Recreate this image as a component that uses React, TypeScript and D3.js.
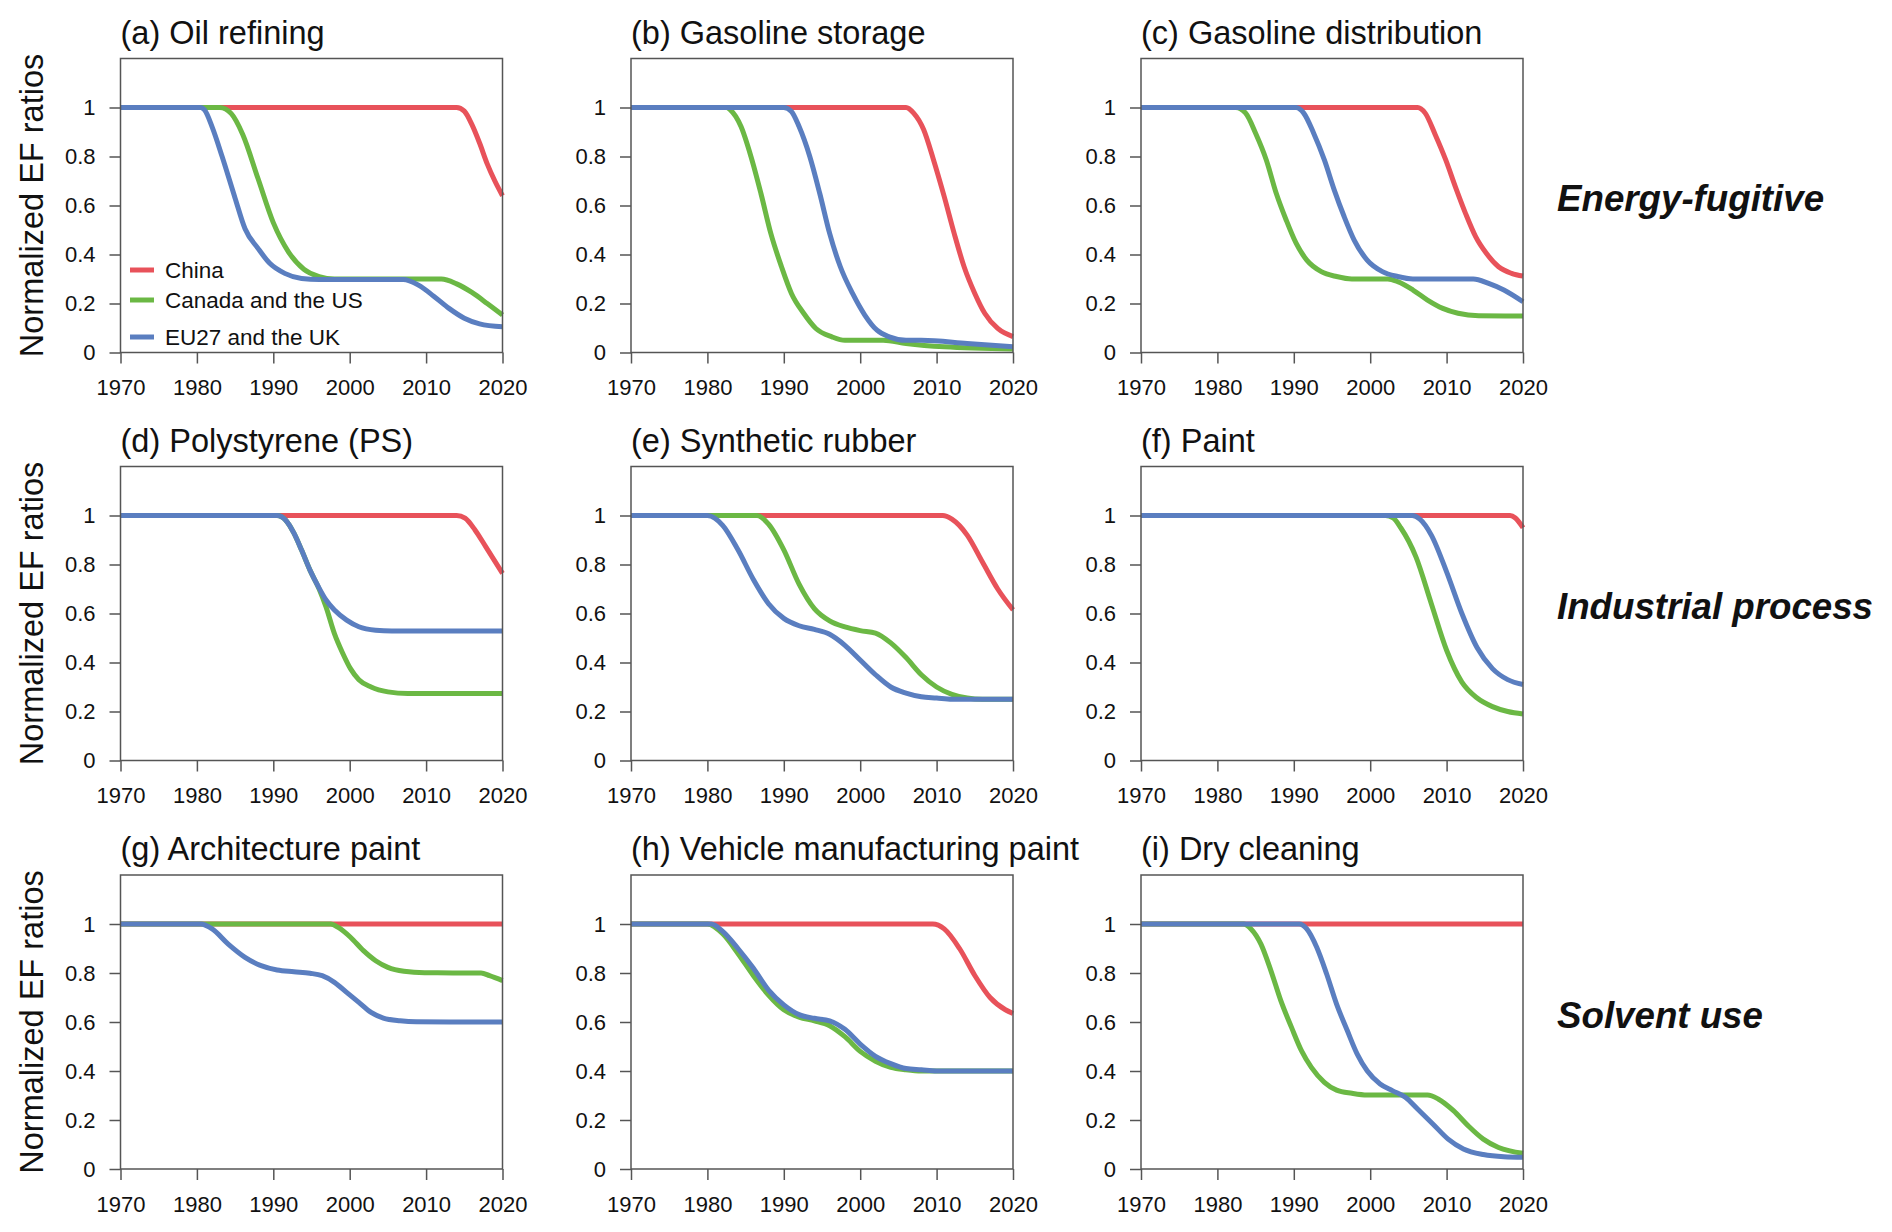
import React, { useEffect, useRef } from 'react';
import * as d3 from 'd3';

type Pt = [number, number];

const yearTicks = [1970, 1980, 1990, 2000, 2010, 2020];
const ratioTicks = [0, 0.2, 0.4, 0.6, 0.8, 1];
const regions = ['China', 'Canada and the US', 'EU27 and the UK'];
const regionColors = ['#e8525a', '#6bb844', '#5a7ec0'];
const panelTitles = [
  '(a) Oil refining', '(b) Gasoline storage', '(c) Gasoline distribution',
  '(d) Polystyrene (PS)', '(e) Synthetic rubber', '(f) Paint',
  '(g) Architecture paint', '(h) Vehicle manufacturing paint', '(i) Dry cleaning',
];
const sectorLabels = ['Energy-fugitive', 'Industrial process', 'Solvent use'];

// (a) Oil refining
const oilChina: Pt[] = [[1970, 1], [2014, 1], [2015, 0.985], [2016, 0.93], [2017, 0.855], [2018, 0.77], [2019, 0.7], [2020, 0.64]];
const oilNA: Pt[] = [[1970, 1], [1983, 1], [1984.5, 0.975], [1986, 0.89], [1988, 0.71], [1990, 0.53], [1992, 0.41], [1994, 0.34], [1996, 0.31], [1998, 0.3], [2012, 0.3], [2014, 0.28], [2016, 0.245], [2018, 0.2], [2020, 0.153]];
const oilEU: Pt[] = [[1970, 1], [1980.5, 1], [1981, 0.99], [1982, 0.92], [1983.3, 0.8], [1985, 0.63], [1986.3, 0.505], [1988, 0.425], [1989.5, 0.365], [1991.5, 0.323], [1993.7, 0.302], [1996, 0.298], [2007, 0.298], [2009, 0.275], [2011, 0.23], [2013, 0.18], [2015, 0.14], [2017, 0.117], [2020, 0.105]];

// (b) Gasoline storage
const storChina: Pt[] = [[1970, 1], [2006, 1], [2007, 0.977], [2008.3, 0.91], [2009.6, 0.786], [2011, 0.636], [2012.3, 0.486], [2013.6, 0.35], [2015, 0.241], [2016.3, 0.16], [2018, 0.098], [2020, 0.065]];
const storNA: Pt[] = [[1970, 1], [1982.5, 1], [1983, 0.99], [1984.4, 0.922], [1985.7, 0.8], [1987, 0.65], [1988.3, 0.486], [1989.7, 0.35], [1991, 0.241], [1992.6, 0.16], [1994.2, 0.098], [1996.3, 0.064], [1998, 0.05], [2003, 0.05], [2006, 0.037], [2011, 0.023], [2020, 0.014]];
const storEU: Pt[] = [[1970, 1], [1990, 1], [1991, 0.984], [1992, 0.922], [1993.4, 0.8], [1994.7, 0.65], [1996, 0.486], [1997.4, 0.35], [1999, 0.241], [2000.6, 0.153], [2002.2, 0.091], [2003.8, 0.064], [2006, 0.05], [2008, 0.05], [2014, 0.037], [2020, 0.023]];

// (c) Gasoline distribution
const distChina: Pt[] = [[1970, 1], [2006.2, 1], [2007.2, 0.977], [2008.5, 0.89], [2009.9, 0.785], [2011.2, 0.672], [2012.5, 0.566], [2013.8, 0.473], [2015.2, 0.405], [2016.8, 0.35], [2018.5, 0.323], [2020, 0.312]];
const distNA: Pt[] = [[1970, 1], [1982.4, 1], [1983.7, 0.977], [1985, 0.895], [1986.4, 0.786], [1987.7, 0.65], [1989, 0.541], [1990.3, 0.446], [1991.7, 0.377], [1993.6, 0.33], [1995.6, 0.31], [1997.6, 0.3], [2002.3, 0.3], [2003.6, 0.289], [2005.6, 0.255], [2007.5, 0.214], [2009.5, 0.18], [2011.5, 0.16], [2014.2, 0.15], [2020, 0.149]];
const distEU: Pt[] = [[1970, 1], [1990.3, 1], [1991.3, 0.977], [1992.6, 0.895], [1994, 0.786], [1995.3, 0.663], [1996.6, 0.554], [1997.9, 0.459], [1999.6, 0.377], [2001.6, 0.33], [2003.6, 0.31], [2005.6, 0.3], [2013.5, 0.3], [2015.5, 0.282], [2017.5, 0.255], [2020, 0.207]];

// (d) Polystyrene (PS)
const psChina: Pt[] = [[1970, 1], [2014, 1], [2015.1, 0.989], [2016.4, 0.941], [2017.8, 0.873], [2020, 0.764]];
const psNA: Pt[] = [[1970, 1], [1990.5, 1], [1991.6, 0.982], [1992.7, 0.928], [1993.7, 0.859], [1994.8, 0.777], [1996, 0.7], [1996.9, 0.627], [1998, 0.518], [1999.1, 0.437], [2000.1, 0.375], [2001.2, 0.33], [2002.8, 0.3], [2005, 0.28], [2007.6, 0.273], [2020, 0.273]];
const psEU: Pt[] = [[1970, 1], [1990.5, 1], [1991.6, 0.982], [1992.7, 0.928], [1993.7, 0.859], [1994.8, 0.777], [1995.9, 0.709], [1996.9, 0.655], [1998, 0.614], [1999.6, 0.573], [2001.2, 0.546], [2003.4, 0.532], [2005.5, 0.529], [2020, 0.529]];

// (e) Synthetic rubber
const rubChina: Pt[] = [[1970, 1], [2010.8, 1], [2012, 0.985], [2014, 0.92], [2016, 0.81], [2018, 0.7], [2020, 0.615]];
const rubNA: Pt[] = [[1970, 1], [1986.5, 1], [1988, 0.965], [1990, 0.86], [1992, 0.72], [1994, 0.62], [1996, 0.57], [1998, 0.545], [2000, 0.53], [2002, 0.52], [2004, 0.48], [2006, 0.42], [2008, 0.35], [2010, 0.3], [2012, 0.27], [2014, 0.255], [2016, 0.25], [2020, 0.25]];
const rubEU: Pt[] = [[1970, 1], [1980, 1], [1982, 0.96], [1984, 0.86], [1986, 0.74], [1988, 0.64], [1990, 0.58], [1992, 0.55], [1994, 0.535], [1996, 0.515], [1998, 0.47], [2000, 0.41], [2002, 0.35], [2004, 0.3], [2006, 0.275], [2008, 0.26], [2010, 0.255], [2012, 0.25], [2020, 0.25]];

// (f) Paint
const paintChina: Pt[] = [[1970, 1], [2018.3, 1], [2019, 0.99], [2020, 0.95]];
const paintNA: Pt[] = [[1970, 1], [2002, 1], [2003, 0.99], [2004, 0.95], [2006, 0.83], [2008, 0.64], [2010, 0.45], [2012, 0.32], [2014, 0.255], [2016, 0.22], [2018, 0.2], [2020, 0.19]];
const paintEU: Pt[] = [[1970, 1], [2005.5, 1], [2006.5, 0.985], [2008, 0.92], [2010, 0.77], [2012, 0.6], [2014, 0.46], [2016, 0.375], [2018, 0.33], [2020, 0.31]];

// (g) Architecture paint
const archChina: Pt[] = [[1970, 1], [2020, 1]];
const archNA: Pt[] = [[1970, 1], [1997.5, 1], [1998.5, 0.986], [2000.1, 0.946], [2001.8, 0.891], [2003.4, 0.85], [2005, 0.823], [2007.1, 0.807], [2009.8, 0.801], [2017.2, 0.8], [2018.3, 0.789], [2020, 0.769]];
const archEU: Pt[] = [[1970, 1], [1980.5, 1], [1982, 0.98], [1984.1, 0.918], [1986.3, 0.864], [1988.4, 0.83], [1990.5, 0.812], [1992.7, 0.805], [1994.8, 0.799], [1996.4, 0.789], [1998, 0.762], [1999.6, 0.721], [2001.2, 0.68], [2002.8, 0.639], [2004.4, 0.616], [2006.6, 0.605], [2008.7, 0.601], [2020, 0.6]];

// (h) Vehicle manufacturing paint
const vehChina: Pt[] = [[1970, 1], [2009.5, 1], [2011, 0.98], [2013, 0.9], [2015, 0.79], [2017, 0.7], [2019, 0.65], [2020, 0.635]];
const vehNA: Pt[] = [[1970, 1], [1980, 1], [1982, 0.96], [1984, 0.88], [1986, 0.79], [1988, 0.71], [1990, 0.65], [1992, 0.62], [1994, 0.605], [1996, 0.585], [1998, 0.54], [2000, 0.48], [2002, 0.44], [2004, 0.415], [2006, 0.405], [2008, 0.4], [2020, 0.4]];
const vehEU: Pt[] = [[1970, 1], [1980.5, 1], [1982, 0.97], [1984, 0.9], [1986, 0.82], [1988, 0.73], [1990, 0.67], [1992, 0.63], [1994, 0.615], [1996, 0.605], [1998, 0.57], [2000, 0.51], [2002, 0.46], [2004, 0.43], [2006, 0.41], [2008, 0.405], [2010, 0.4], [2020, 0.4]];

// (i) Dry cleaning
const dryChina: Pt[] = [[1970, 1], [2020, 1]];
const dryNA: Pt[] = [[1970, 1], [1983.4, 1], [1984.4, 0.98], [1985.7, 0.918], [1987, 0.81], [1988.3, 0.687], [1989.7, 0.578], [1991, 0.483], [1992.3, 0.415], [1994, 0.354], [1995.6, 0.322], [1997.6, 0.309], [1999.6, 0.302], [2007.5, 0.302], [2008.9, 0.286], [2010.9, 0.238], [2012.8, 0.177], [2014.8, 0.122], [2016.8, 0.088], [2020, 0.064]];
const dryEU: Pt[] = [[1970, 1], [1990.7, 1], [1991.7, 0.98], [1993, 0.905], [1994.3, 0.796], [1995.6, 0.673], [1997, 0.565], [1998.3, 0.469], [1999.6, 0.401], [2001.3, 0.347], [2002.9, 0.32], [2004.6, 0.293], [2006.2, 0.245], [2008.2, 0.184], [2010.2, 0.122], [2012.2, 0.082], [2014.8, 0.059], [2017.5, 0.05], [2020, 0.048]];

const panelSeries: Pt[][][] = [
  [oilChina, oilNA, oilEU],
  [storChina, storNA, storEU],
  [distChina, distNA, distEU],
  [psChina, psNA, psEU],
  [rubChina, rubNA, rubEU],
  [paintChina, paintNA, paintEU],
  [archChina, archNA, archEU],
  [vehChina, vehNA, vehEU],
  [dryChina, dryNA, dryEU],
];

const FONT = '"Liberation Sans", Arial, Helvetica, sans-serif';
const W = 1892;
const H = 1232;
const colLeft = [120.5, 631, 1141];
const rowTop = [58.5, 466.5, 875];
const PW = 382;
const PH = 294;
const AXIS = '#555';

const Panel: React.FC<{ idx: number }> = ({ idx }) => {
  const xRef = useRef<SVGGElement>(null);
  const yRef = useRef<SVGGElement>(null);
  const col = idx % 3;
  const row = Math.floor(idx / 3);
  const left = colLeft[col];
  const top = rowTop[row];

  const x = d3.scaleLinear().domain([1970, 2020]).range([0, PW]);
  const y = d3.scaleLinear().domain([0, 1.2]).range([PH, 0]);
  const line = d3.line<Pt>().x(d => x(d[0])).y(d => y(d[1])).curve(d3.curveMonotoneX);

  useEffect(() => {
    if (!xRef.current || !yRef.current) return;
    const gx = d3.select(xRef.current);
    gx.selectAll('*').remove();
    gx.call(d3.axisBottom(x).tickValues(yearTicks).tickSize(11).tickSizeOuter(0).tickPadding(16).tickFormat(d3.format('d')));
    gx.select('.domain').remove();
    gx.selectAll('line').attr('stroke', AXIS).attr('stroke-width', 1.5);
    gx.selectAll('text').attr('font-size', 22).attr('font-family', FONT).attr('fill', '#111');
    gx.attr('font-family', null).attr('font-size', null);

    const gy = d3.select(yRef.current);
    gy.selectAll('*').remove();
    gy.call(d3.axisLeft(y).tickValues(ratioTicks).tickSize(11).tickSizeOuter(0).tickPadding(14).tickFormat(d => String(d)));
    gy.select('.domain').remove();
    gy.selectAll('line').attr('stroke', AXIS).attr('stroke-width', 1.5);
    gy.selectAll('text').attr('font-size', 22).attr('font-family', FONT).attr('fill', '#111');
    gy.attr('font-family', null).attr('font-size', null);
  }, [idx]);

  const series = panelSeries[idx];

  return (
    <g transform={`translate(${left},${top})`}>
      <text x={0} y={-15} fontSize={32.5} fontFamily={FONT} fill="#111">{panelTitles[idx]}</text>
      {series.map((s, i) => (
        <path key={i} d={line(s) || ''} fill="none" stroke={regionColors[i]} strokeWidth={5} strokeLinejoin="round" />
      ))}
      <rect x={0} y={0} width={PW} height={PH} fill="none" stroke={AXIS} strokeWidth={1.5} />
      <g ref={xRef} transform={`translate(0,${PH})`} />
      <g ref={yRef} />
      {col === 0 && (
        <text transform={`translate(${43 - left},${PH / 2}) rotate(-90)`} textAnchor="middle" fontSize={32.5} fontFamily={FONT} fill="#111">
          Normalized EF ratios
        </text>
      )}
      {idx === 0 && (
        <g>
          {regions.map((r, i) => {
            const ly = [270, 300, 337][i] - top;
            return (
              <g key={r}>
                <line x1={130 - left} x2={154 - left} y1={ly} y2={ly} stroke={regionColors[i]} strokeWidth={5} />
                <text x={165 - left} y={ly} dy="0.35em" fontSize={22.5} fontFamily={FONT} fill="#111">{r}</text>
              </g>
            );
          })}
        </g>
      )}
    </g>
  );
};

export default function App() {
  return (
    <svg width={W} height={H} viewBox={`0 0 ${W} ${H}`} style={{ position: 'absolute', left: 0, top: 0, background: '#fff' }}>
      <rect width={W} height={H} fill="#fff" />
      {panelSeries.map((_, i) => <Panel key={i} idx={i} />)}
      {sectorLabels.map((s, r) => (
        <text key={s} x={1557} y={rowTop[r] + PH / 2 + 5.5} fontSize={36.7} fontWeight="bold" fontStyle="italic" fontFamily={FONT} fill="#111">{s}</text>
      ))}
    </svg>
  );
}
